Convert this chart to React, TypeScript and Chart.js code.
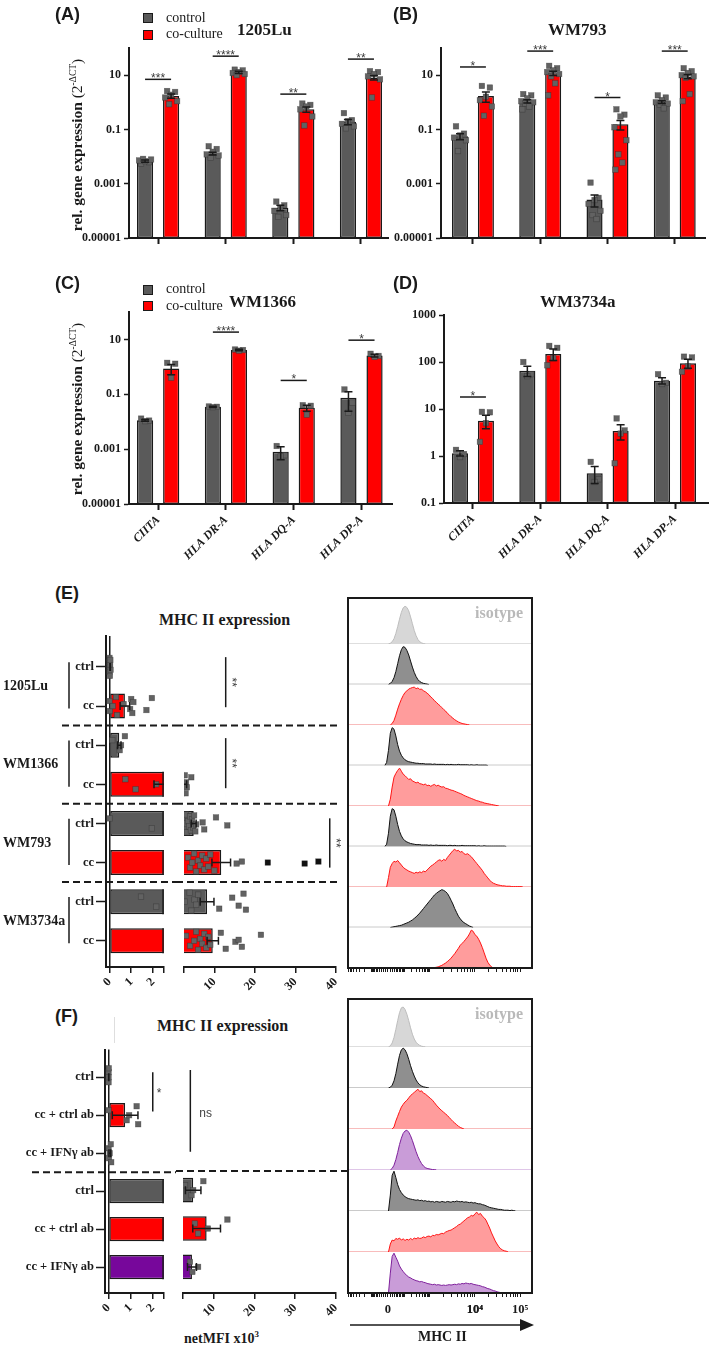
import React, { useEffect, useRef } from 'react';
import { Chart, registerables } from 'chart.js';

Chart.register(...registerables);

const SERIF = "'Liberation Serif', 'Times New Roman', serif";
const SANS = "'Liberation Sans', Arial, sans-serif";
const INK = '#1a1a1a';
const GREY = '#5a5a5a';
const RED = '#ff0000';
const PURPLE = '#77079b';
const DOT = '#626262';

// ---------------- qPCR (A–D) ----------------
const genes = ['CIITA', 'HLA DR-A', 'HLA DQ-A', 'HLA DP-A'];
const smallTicks = [0.00001, 0.001, 0.1, 10];
const smallTickLabels = ['0.00001', '0.001', '0.1', '10'];
const wideTicks = [0.1, 1, 10, 100, 1000];
const wideTickLabels = ['0.1', '1', '10', '100', '1000'];

// 1205Lu
const lu1205Ctrl = [0.0068, 0.013, 0.00013, 0.19];
const lu1205Co = [1.7, 12.6, 0.55, 8.2];
const lu1205CtrlSem = [0.0006, 0.0015, 0.00003, 0.04];
const lu1205CoSem = [0.3, 1.2, 0.12, 1.6];
const lu1205CtrlPts = [
  [0.0055, 0.0062, 0.0068, 0.0072, 0.0078, 0.0082],
  [0.024, 0.019, 0.015, 0.012, 0.011, 0.009],
  [0.00022, 0.00016, 0.00013, 0.0001, 0.00007, 0.00006],
  [0.4, 0.22, 0.2, 0.16, 0.13, 0.11],
];
const lu1205CoPts = [
  [2.6, 2.4, 1.9, 1.5, 1.1, 0.85],
  [16, 15, 13, 12, 11, 10],
  [0.9, 0.8, 0.7, 0.55, 0.3, 0.14],
  [14, 13, 11, 9, 7, 1.5],
];
const lu1205SigAt = [7, 50, 2, 39];
const lu1205Sig = ['***', '****', '**', '**'];

// WM793
const wm793Ctrl = [0.056, 1.1, 0.00026, 1.02];
const wm793Co = [1.7, 11.8, 0.155, 8.9];
const wm793CtrlSem = [0.014, 0.15, 0.00012, 0.12];
const wm793CoSem = [0.7, 2.0, 0.06, 1.6];
const wm793CtrlPts = [
  [0.13, 0.07, 0.06, 0.05, 0.04, 0.016],
  [2, 1.8, 1.4, 1.1, 1.0, 0.9, 0.7, 0.55],
  [0.0011, 0.0003, 0.00025, 0.00018, 0.0001, 0.00007, 0.00005],
  [1.8, 1.5, 1.2, 1.0, 0.9, 0.8, 0.6],
];
const wm793CoPts = [
  [4, 3.5, 1.6, 1.2, 0.7, 0.32],
  [22, 18, 15, 13, 11, 9, 5, 1.8],
  [0.55, 0.35, 0.3, 0.12, 0.04, 0.012, 0.006, 0.0033],
  [18, 14, 12, 10, 9, 8, 2, 1.1],
];
const wm793SigAt = [20, 77, 1.5, 77];
const wm793Sig = ['*', '***', '*', '***'];

// WM1366
const wm1366Ctrl = [0.0112, 0.035, 0.00081, 0.074];
const wm1366Co = [0.87, 4.1, 0.032, 2.6];
const wm1366CtrlSem = [0.0008, 0.002, 0.0004, 0.05];
const wm1366CoSem = [0.35, 0.25, 0.008, 0.3];
const wm1366CtrlPts = [
  [0.013, 0.011, 0.0105],
  [0.036, 0.035, 0.034],
  [0.0013, 0.0006, 0.00055],
  [0.15, 0.05, 0.021],
];
const wm1366CoPts = [
  [1.4, 1.3, 0.4],
  [4.3, 4.1, 3.9],
  [0.04, 0.038, 0.018],
  [3.0, 2.5, 2.3],
];
const wm1366SigAt = [null, 18.5, 0.32, 9.4];
const wm1366Sig = ['', '****', '*', '*'];

// WM3734a
const wm3734Ctrl = [1.15, 65, 0.43, 40];
const wm3734Co = [5.6, 148, 3.4, 94];
const wm3734CtrlSem = [0.15, 16, 0.17, 6];
const wm3734CoSem = [1.8, 40, 1.2, 20];
const wm3734CtrlPts = [
  [1.35, 1.1, 0.95],
  [100, 55, 50],
  [0.75, 0.32, 0.28],
  [55, 36, 34],
];
const wm3734CoPts = [
  [8.7, 8.5, 5, 2.0],
  [220, 200, 120, 85],
  [6.3, 3.5, 3.0, 0.7],
  [130, 125, 80, 62],
];
const wm3734SigAt = [18, null, null, null];
const wm3734Sig = ['*', '', '', ''];

// ---------------- netMFI bars (E, F) ----------------
const rowsE = ['ctrl', 'cc', 'ctrl', 'cc', 'ctrl', 'cc', 'ctrl', 'cc'];
const groupsE = ['1205Lu', 'WM1366', 'WM793', 'WM3734a'];
const meanE = [0.03, 0.71, 0.45, 2.6, 4.9, 11.7, 8.2, 9.6];
const semE = [0.01, 0.22, 0.08, 0.55, 0.6, 2.3, 1.7, 1.4];
const colorsE = [GREY, RED, GREY, RED, GREY, RED, GREY, RED];
const ptsE = [
  [0, 0, 0, 0, 0.02, 0.03, 0.05, 0.04],
  [0, 0.02, 0.15, 0.3, 0.35, 0.65, 0.95, 1.0, 1.05, 1.1, 1.7, 1.95],
  [0.13, 0.47, 0.53, 0.71],
  [0.73, 1.2, 2.15, 2.7, 2.9, 3.0, 3.2, 4.3],
  [0.0, 1.95, 2.7, 3.0, 3.2, 3.5, 3.8, 4.0, 4.2, 4.5, 4.8, 5.0, 5.3, 5.5, 7.1, 7.5, 10.4, 13.2],
  [3.5, 4.0, 4.5, 5.0, 5.5, 6.0, 6.5, 7.0, 7.5, 8.0, 8.5, 9.0, 10, 15.5, 16.8],
  [1.45, 2.15, 2.7, 3.9, 4.3, 5.1, 5.5, 6.0, 11.2, 14.4, 16.0, 17.2, 17.8],
  [3.0, 4.0, 5.0, 5.5, 6.0, 6.5, 7.0, 7.5, 8.0, 8.5, 9.0, 11.6, 12.8, 15.2, 16.0, 16.8, 21.5],
];
const darkPtsE = [[], [], [], [], [], [23.2, 32.3, 35.7], [], []];
const sepE = [1.5, 3.5, 5.5];
const sigE = [
  { at: 12.8, from: -0.25, to: 1.03, label: '**' },
  { at: 12.8, from: 1.82, to: 3.1, label: '**' },
  { at: 38.5, from: 3.87, to: 5.13, label: '**' },
];

const rowsF = ['ctrl', 'cc + ctrl ab', 'cc + IFN\u03b3 ab', 'ctrl', 'cc + ctrl ab', 'cc + IFN\u03b3 ab'];
const meanF = [0.01, 0.75, 0.06, 5.0, 8.3, 4.7];
const semF = [0.005, 0.58, 0.04, 1.9, 3.4, 1.1];
const colorsF = [GREY, RED, PURPLE, GREY, RED, PURPLE];
const ptsF = [
  [0, 0, 0, 0.01],
  [0, 0.82, 0.93, 1.27, 1.34],
  [0, 0.02, 0.05, 0.1, 0.12],
  [3.0, 4.6, 5.0, 7.5],
  [5.4, 6.2, 8.6, 13.4],
  [4.2, 4.8, 6.2],
];
const sepF = [2.5];
const sigFLeft = [{ at: 2.0, from: -0.13, to: 0.9, label: '*' }];
const sigFRight = [{ at: 4.3, from: -0.13, to: 2.0, label: 'ns' }];

const leftTicks = [0, 1, 2, 2.5];
const leftTickLabels = ['0', '1', '2', ''];
const rightTicks = [2.5, 10, 20, 30, 40];
const rightTickLabels = ['', '10', '20', '30', '40'];

// ---------------- MHC II histograms (channel scale 0–1000, bins of 10) ----------------
const HIST_STEP = 10;
const histTickValues = [0, 10000, 100000];
const histTickLabels = ['0', '10\u2074', '10\u2075'];

const isoEStart = 220;
const isoE = [0, 2, 6, 14, 28, 46, 66, 84, 96, 100, 97, 88, 72, 54, 36, 22, 12, 6, 3, 1, 0];
const lu1205CtrlHStart = 220;
const lu1205CtrlH = [0, 3, 8, 18, 34, 55, 76, 92, 100, 98, 90, 78, 62, 46, 32, 21, 13, 8, 5, 3, 2, 1, 0];
const lu1205CoHStart = 230;
const lu1205CoH = [0, 4, 12, 26, 42, 56, 68, 78, 86, 90, 95, 97, 99, 100, 96, 98, 94, 95, 90, 88, 84, 80, 74, 70, 64, 60, 55, 51, 46, 41, 37, 31, 27, 22, 18, 14, 11, 8, 6, 4, 3, 2, 1, 0];
const wm1366CtrlHStart = 200;
const wm1366CtrlH = [0, 8, 40, 85, 100, 96, 78, 55, 38, 27, 20, 15, 12, 10, 9, 8, 7, 6, 6, 5, 5, 5, 4, 4, 4, 4, 3, 4, 3, 3, 3, 3, 3, 2, 3, 2, 3, 2, 2, 2, 3, 2, 2, 2, 2, 2, 1, 2, 1, 1, 2, 1, 1, 1, 1, 1, 0];
const wm1366CoHStart = 220;
const wm1366CoH = [0, 18, 50, 76, 86, 94, 100, 92, 84, 80, 75, 70, 72, 66, 64, 61, 63, 59, 58, 56, 58, 54, 55, 52, 55, 57, 53, 55, 52, 50, 51, 47, 46, 44, 42, 41, 39, 37, 35, 33, 31, 28, 26, 24, 22, 20, 18, 16, 14, 13, 11, 10, 8, 7, 6, 5, 4, 3, 2, 1, 0];
const wm793CtrlHStart = 200;
const wm793CtrlH = [0, 6, 35, 80, 100, 97, 80, 58, 40, 28, 20, 15, 12, 10, 8, 7, 6, 5, 5, 5, 4, 4, 4, 4, 3, 4, 3, 3, 4, 3, 3, 3, 3, 3, 2, 3, 3, 2, 3, 2, 2, 2, 3, 2, 2, 2, 2, 2, 2, 2, 1, 2, 1, 1, 2, 1, 1, 1, 1, 1, 1, 1, 1, 1, 1, 1, 0];
const wm793CoHStart = 210;
const wm793CoH = [0, 25, 52, 62, 68, 66, 70, 64, 58, 52, 48, 45, 42, 40, 38, 36, 39, 37, 40, 38, 42, 40, 45, 50, 55, 58, 62, 66, 70, 72, 68, 73, 70, 78, 84, 90, 96, 100, 95, 97, 92, 94, 88, 86, 88, 84, 80, 74, 68, 62, 56, 50, 44, 36, 30, 24, 18, 13, 10, 8, 6, 5, 4, 3, 3, 2, 2, 2, 1, 1, 1, 1, 1, 1, 0];
const wm3734CtrlHStart = 230;
const wm3734CtrlH = [0, 1, 2, 3, 4, 5, 6, 8, 10, 12, 14, 17, 20, 24, 28, 33, 38, 44, 50, 56, 62, 68, 74, 80, 86, 90, 94, 97, 100, 98, 95, 90, 82, 72, 62, 50, 40, 30, 23, 17, 13, 10, 7, 4, 2, 0];
const wm3734CoHStart = 460;
const wm3734CoH = [0, 1, 2, 3, 5, 7, 10, 13, 17, 21, 26, 32, 38, 45, 52, 60, 65, 70, 76, 82, 90, 100, 97, 88, 84, 76, 66, 54, 40, 26, 15, 8, 3, 0];

const isoFStart = 220;
const isoF = [0, 3, 10, 24, 44, 66, 86, 98, 100, 94, 82, 66, 48, 32, 20, 12, 7, 4, 2, 1, 0];
const fCtrlAStart = 220;
const fCtrlA = [0, 2, 7, 18, 36, 60, 82, 96, 100, 96, 86, 72, 56, 42, 30, 20, 13, 8, 5, 3, 2, 1, 0];
const fCtrlAbAStart = 240;
const fCtrlAbA = [0, 5, 20, 32, 44, 55, 62, 68, 72, 78, 84, 88, 92, 96, 100, 94, 96, 90, 88, 84, 80, 76, 72, 66, 60, 55, 50, 46, 42, 38, 34, 29, 24, 19, 15, 11, 7, 4, 2, 0];
const fIfnAbAStart = 230;
const fIfnAbA = [0, 4, 12, 26, 44, 64, 80, 92, 98, 100, 95, 86, 74, 60, 46, 34, 24, 16, 10, 6, 4, 3, 2, 1, 1, 0];
const fCtrlBStart = 220;
const fCtrlB = [0, 40, 90, 100, 84, 66, 54, 46, 40, 36, 33, 31, 30, 29, 28, 27, 28, 26, 27, 25, 26, 24, 25, 23, 24, 22, 24, 23, 22, 24, 23, 22, 24, 23, 22, 24, 23, 25, 24, 23, 24, 22, 23, 22, 21, 22, 20, 21, 19, 18, 18, 16, 15, 13, 11, 9, 8, 7, 6, 5, 4, 4, 3, 2, 2, 2, 1, 2, 1, 0];
const fCtrlAbBStart = 220;
const fCtrlAbB = [0, 20, 30, 28, 34, 32, 35, 30, 33, 29, 32, 30, 34, 31, 35, 33, 36, 34, 35, 38, 36, 39, 40, 38, 42, 41, 44, 43, 45, 47, 46, 50, 52, 54, 55, 58, 61, 64, 68, 70, 74, 78, 82, 86, 88, 92, 90, 96, 100, 94, 97, 90, 86, 80, 70, 60, 48, 38, 28, 20, 13, 8, 5, 3, 2, 0];
const fIfnAbBStart = 220;
const fIfnAbB = [0, 50, 92, 100, 90, 80, 68, 60, 54, 48, 44, 40, 38, 35, 33, 31, 30, 28, 29, 27, 26, 24, 23, 22, 21, 22, 20, 21, 20, 19, 20, 19, 20, 21, 20, 21, 22, 21, 23, 22, 24, 23, 25, 24, 23, 24, 22, 21, 20, 19, 18, 16, 15, 13, 11, 10, 8, 6, 5, 3, 2, 1, 0];

const TONES: any = {
  iso: { line: '#bdbdbd', fill: '#d7d7d7', base: '#dedede' },
  grey: { line: '#111111', fill: '#8f8f8f', base: '#cacaca' },
  red: { line: '#ff1414', fill: '#ff9c9c', base: '#f8bcbc' },
  purple: { line: '#7e1f9b', fill: '#c99cd8', base: '#dfc6e8' },
};

const histRowsE = [
  { start: isoEStart, counts: isoE, tone: 'iso' },
  { start: lu1205CtrlHStart, counts: lu1205CtrlH, tone: 'grey' },
  { start: lu1205CoHStart, counts: lu1205CoH, tone: 'red' },
  { start: wm1366CtrlHStart, counts: wm1366CtrlH, tone: 'grey' },
  { start: wm1366CoHStart, counts: wm1366CoH, tone: 'red' },
  { start: wm793CtrlHStart, counts: wm793CtrlH, tone: 'grey' },
  { start: wm793CoHStart, counts: wm793CoH, tone: 'red' },
  { start: wm3734CtrlHStart, counts: wm3734CtrlH, tone: 'grey' },
  { start: wm3734CoHStart, counts: wm3734CoH, tone: 'red' },
];
const histRowsF = [
  { start: isoFStart, counts: isoF, tone: 'iso' },
  { start: fCtrlAStart, counts: fCtrlA, tone: 'grey' },
  { start: fCtrlAbAStart, counts: fCtrlAbA, tone: 'red' },
  { start: fIfnAbAStart, counts: fIfnAbA, tone: 'purple' },
  { start: fCtrlBStart, counts: fCtrlB, tone: 'grey' },
  { start: fCtrlAbBStart, counts: fCtrlAbB, tone: 'red' },
  { start: fIfnAbBStart, counts: fIfnAbB, tone: 'purple' },
];

// biexponential-style display transform of the MHC II axis (fluorescence -> channel)
const channelOf = (v: number) =>
  v >= 1000 ? 690 + 245 * (Math.log10(v) - 4) : 217 + (Math.sign(v) * 228 * Math.asinh(Math.abs(v) / 50)) / Math.asinh(20);

const histAxisTicks: number[] = (() => {
  const out: number[] = histTickValues.map(channelOf);
  for (const d of [1, 2, 3, 4]) {
    for (let m = 1; m <= 9; m++) {
      out.push(channelOf(m * 10 ** d));
      if (d <= 2) out.push(channelOf(-m * 10 ** d));
    }
  }
  return out.filter((c) => c >= 0 && c <= 1000).sort((a, b) => a - b);
})();

// ---------------- helpers ----------------
const JIT = [-4, 4, 0, -6, 6, -2, 2, -5, 5, -1, 1, -3, 3];
const VJIT = [-5, 5, 0, -9, 9, -2, 3, -7, 7, -4, 4, -8, 8, 1, -1, 6, -6, 2];

function square(ctx: any, x: number, y: number, color: string) {
  ctx.fillStyle = color;
  ctx.fillRect(x - 2.75, y - 2.75, 5.5, 5.5);
  ctx.strokeStyle = 'rgba(40,40,40,0.5)';
  ctx.lineWidth = 0.6;
  ctx.strokeRect(x - 2.75, y - 2.75, 5.5, 5.5);
}

function dashed(ctx: any, x0: number, x1: number, y: number) {
  ctx.save();
  ctx.strokeStyle = INK;
  ctx.lineWidth = 2;
  ctx.setLineDash([7, 4]);
  ctx.beginPath();
  ctx.moveTo(x0, y);
  ctx.lineTo(x1, y);
  ctx.stroke();
  ctx.restore();
}

function vline(ctx: any, x: number, y0: number, y1: number) {
  ctx.strokeStyle = INK;
  ctx.lineWidth = 1.5;
  ctx.beginPath();
  ctx.moveTo(x, y0);
  ctx.lineTo(x, y1);
  ctx.stroke();
}

function lookup(ticks: number[], labels: string[], v: number, log = false) {
  const i = ticks.findIndex((t) => (log ? Math.abs(Math.log10(t) - Math.log10(v)) < 1e-6 : Math.abs(t - v) < 1e-6));
  return i >= 0 ? labels[i] : '';
}

function qpcrMarks(sems: number[][], pts: number[][][], sigAt: (number | null)[], sig: string[]) {
  return {
    id: 'qpcrMarks',
    afterDatasetsDraw(chart: any) {
      const ctx = chart.ctx;
      const ys = chart.scales.y;
      ctx.save();
      for (let d = 0; d < 2; d++) {
        const meta = chart.getDatasetMeta(d);
        meta.data.forEach((bar: any, j: number) => {
          const mean = chart.data.datasets[d].data[j].y;
          pts[d][j].forEach((v, k) => square(ctx, bar.x + JIT[k % JIT.length], ys.getPixelForValue(v), DOT));
          const hi = ys.getPixelForValue(mean + sems[d][j]);
          const lo = ys.getPixelForValue(Math.max(mean - sems[d][j], ys.min));
          ctx.strokeStyle = INK;
          ctx.lineWidth = 1.5;
          ctx.beginPath();
          ctx.moveTo(bar.x, lo);
          ctx.lineTo(bar.x, hi);
          ctx.moveTo(bar.x - 4, hi);
          ctx.lineTo(bar.x + 4, hi);
          ctx.moveTo(bar.x - 4, lo);
          ctx.lineTo(bar.x + 4, lo);
          ctx.stroke();
        });
      }
      const m0 = chart.getDatasetMeta(0).data;
      const m1 = chart.getDatasetMeta(1).data;
      sigAt.forEach((v, j) => {
        if (v == null) return;
        const y = ys.getPixelForValue(v);
        ctx.strokeStyle = INK;
        ctx.lineWidth = 1.5;
        ctx.beginPath();
        ctx.moveTo(m0[j].x, y);
        ctx.lineTo(m1[j].x, y);
        ctx.stroke();
        ctx.fillStyle = '#3a3a3a';
        ctx.font = `12px ${SANS}`;
        ctx.textAlign = 'center';
        ctx.textBaseline = 'alphabetic';
        ctx.fillText(sig[j], (m0[j].x + m1[j].x) / 2, y + 3);
      });
      ctx.restore();
    },
  };
}

function qpcrConfig(p: any) {
  return () => ({
    type: 'bar',
    data: {
      datasets: [
        {
          label: 'control',
          data: p.ctrl.map((v: number, i: number) => ({ x: i, y: v })),
          backgroundColor: GREY,
          borderColor: INK,
          borderWidth: 1.5,
          borderSkipped: false,
          categoryPercentage: 0.77,
          barPercentage: 0.62,
        },
        {
          label: 'co-culture',
          data: p.co.map((v: number, i: number) => ({ x: i, y: v })),
          backgroundColor: RED,
          borderColor: INK,
          borderWidth: 1.5,
          borderSkipped: false,
          categoryPercentage: 0.77,
          barPercentage: 0.62,
        },
      ],
    },
    options: {
      responsive: false,
      animation: false,
      events: [],
      layout: { padding: { top: p.padTop, right: p.padRight, left: 0, bottom: 0 }, autoPadding: false },
      plugins: { legend: { display: false }, tooltip: { enabled: false } },
      scales: {
        x: {
          type: 'linear',
          min: p.xMin,
          max: p.xMax,
          offset: false,
          afterBuildTicks: (s: any) => {
            s.ticks = genes.map((_, i) => ({ value: i }));
          },
          afterFit: (s: any) => {
            s.height = p.xHeight;
          },
          grid: { drawOnChartArea: false, drawTicks: true, tickLength: 6, offset: false, color: INK, tickColor: INK, tickWidth: 2 },
          border: { display: true, color: INK, width: 2 },
          ticks: {
            display: p.showGenes,
            autoSkip: false,
            minRotation: 45,
            maxRotation: 45,
            padding: 3,
            color: INK,
            font: { family: SERIF, size: 12, weight: 'bold', style: 'italic' },
            callback: (v: number) => genes[Math.round(v)] ?? '',
          },
        },
        y: {
          type: 'logarithmic',
          min: p.yMin,
          max: p.yMax,
          afterBuildTicks: (s: any) => {
            s.ticks = p.yTicks.map((v: number) => ({ value: v }));
          },
          afterFit: (s: any) => {
            s.width = p.yWidth;
          },
          grid: { drawOnChartArea: false, drawTicks: true, tickLength: 5, color: INK, tickColor: INK, tickWidth: 1.5 },
          border: { display: true, color: INK, width: 2 },
          ticks: {
            padding: 3,
            color: INK,
            font: { family: SERIF, size: 12, weight: 'bold' },
            callback: (v: number) => lookup(p.yTicks, p.yLabels, v, true),
          },
        },
      },
    },
    plugins: [qpcrMarks(p.sems, p.pts, p.sigAt, p.sig)],
  });
}

function rowMarks(p: any) {
  return {
    id: 'rowMarks',
    afterDatasetsDraw(chart: any) {
      const ctx = chart.ctx;
      const a = chart.chartArea;
      const xs = chart.scales.x;
      const ys = chart.scales.y;
      const meta = chart.getDatasetMeta(0);
      const inSegment = (v: number) => v >= p.ptMin && v <= p.ptMax;
      ctx.save();
      meta.data.forEach((bar: any, i: number) => {
        if (p.means[i] > xs.max) {
          const cy = ys.getPixelForValue(i);
          ctx.strokeStyle = INK;
          ctx.lineWidth = 1.5;
          ctx.beginPath();
          ctx.moveTo(a.right - 0.75, cy - bar.height / 2);
          ctx.lineTo(a.right - 0.75, cy + bar.height / 2);
          ctx.stroke();
        }
      });
      ctx.beginPath();
      ctx.rect(a.left - p.clipL, a.top, a.right - a.left + p.clipL + p.clipR, a.bottom - a.top);
      ctx.clip();
      p.means.forEach((mean: number, i: number) => {
        const cy = ys.getPixelForValue(i);
        p.pts[i].forEach((v: number, k: number) => {
          if (inSegment(v)) square(ctx, xs.getPixelForValue(v), cy + VJIT[k % VJIT.length], DOT);
        });
        (p.dark[i] || []).forEach((v: number, k: number) => {
          if (inSegment(v)) square(ctx, xs.getPixelForValue(v), cy + [0, 1, -1][k % 3], '#111');
        });
        const l = xs.getPixelForValue(Math.max(mean - p.sems[i], 0));
        const r = xs.getPixelForValue(mean + p.sems[i]);
        ctx.strokeStyle = INK;
        ctx.lineWidth = 1.5;
        ctx.beginPath();
        ctx.moveTo(l, cy);
        ctx.lineTo(r, cy);
        ctx.moveTo(l, cy - 4);
        ctx.lineTo(l, cy + 4);
        ctx.moveTo(r, cy - 4);
        ctx.lineTo(r, cy + 4);
        ctx.stroke();
      });
      ctx.restore();
      ctx.save();
      p.extra && p.extra(chart);
      ctx.restore();
    },
  };
}

function hbarConfig(p: any) {
  return () => ({
    type: 'bar',
    data: {
      datasets: [
        {
          // bars that end before this segment of the broken axis are left out
          data: p.means.map((v: number, i: number) => ({ x: v > p.xMin ? v : null, y: i })),
          backgroundColor: p.colors,
          borderColor: INK,
          borderWidth: 1.5,
          borderSkipped: false,
          categoryPercentage: 1,
          barPercentage: 0.64,
          clip: 0,
        },
      ],
    },
    options: {
      indexAxis: 'y',
      responsive: false,
      animation: false,
      events: [],
      layout: { padding: { top: p.padTop, left: p.padLeft, right: p.padRight, bottom: 0 }, autoPadding: false },
      plugins: { legend: { display: false }, tooltip: { enabled: false } },
      scales: {
        x: {
          type: 'linear',
          min: p.xMin,
          max: p.xMax,
          afterBuildTicks: (s: any) => {
            s.ticks = p.xTicks.map((v: number) => ({ value: v }));
          },
          afterFit: (s: any) => {
            s.height = p.xHeight;
          },
          grid: {
            drawOnChartArea: p.zeroLine,
            drawTicks: true,
            tickLength: 6,
            lineWidth: 1.5,
            color: (c: any) => (c.tick && c.tick.value === 0 ? INK : 'rgba(0,0,0,0)'),
            tickColor: INK,
            tickWidth: 1.5,
          },
          border: { display: true, color: INK, width: 2 },
          ticks: {
            autoSkip: false,
            minRotation: 45,
            maxRotation: 45,
            padding: 2,
            color: INK,
            font: { family: SERIF, size: 12, weight: 'bold' },
            callback: (v: number) => lookup(p.xTicks, p.xLabels, v),
          },
        },
        y: {
          type: 'linear',
          reverse: true,
          min: p.yMin,
          max: p.yMax,
          offset: false,
          display: p.showRows,
          afterBuildTicks: (s: any) => {
            s.ticks = p.rows.map((_: string, i: number) => ({ value: i }));
          },
          afterFit: (s: any) => {
            s.width = p.yWidth;
          },
          grid: { drawOnChartArea: false, drawTicks: true, tickLength: p.tickLen, offset: false, color: INK, tickColor: INK, tickWidth: 1.5 },
          border: { display: true, color: INK, width: 2 },
          ticks: {
            autoSkip: false,
            padding: 2,
            color: INK,
            font: { family: SERIF, size: 12.5, weight: 'bold' },
            callback: (v: number) => p.rows[Math.round(v)] ?? '',
          },
        },
      },
    },
    plugins: [rowMarks(p)],
  });
}

function histPlugin(rows: any[]) {
  return {
    id: 'histFrame',
    beforeDatasetsDraw(chart: any) {
      const ctx = chart.ctx;
      const a = chart.chartArea;
      ctx.save();
      rows.forEach((r, i) => {
        const s = chart.scales['h' + i];
        const y = s.getPixelForValue(0) - 0.5;
        ctx.strokeStyle = TONES[r.tone].base;
        ctx.lineWidth = 1;
        ctx.beginPath();
        ctx.moveTo(a.left, y);
        ctx.lineTo(a.right, y);
        ctx.stroke();
      });
      ctx.restore();
    },
    afterDatasetsDraw(chart: any) {
      const ctx = chart.ctx;
      const a = chart.chartArea;
      ctx.save();
      ctx.strokeStyle = INK;
      ctx.lineWidth = 2;
      ctx.strokeRect(a.left, a.top, a.right - a.left, a.bottom - a.top);
      ctx.fillStyle = '#b9b9b9';
      ctx.font = `bold 16px ${SERIF}`;
      ctx.textAlign = 'right';
      ctx.textBaseline = 'alphabetic';
      ctx.fillText('isotype', a.right - 9, a.top + 20);
      ctx.restore();
    },
  };
}

function histConfig(rows: any[], p: any) {
  return () => {
    const scales: any = {
      x: {
        type: 'linear',
        min: 0,
        max: 1000,
        afterBuildTicks: (s: any) => {
          s.ticks = histAxisTicks.map((v) => ({ value: v }));
        },
        afterFit: (s: any) => {
          s.height = p.xHeight;
        },
        grid: { drawOnChartArea: false, drawTicks: true, tickLength: 4, color: INK, tickColor: INK, tickWidth: 1 },
        border: { display: false },
        ticks: {
          display: p.showLabels,
          autoSkip: false,
          minRotation: 0,
          maxRotation: 0,
          padding: 5,
          color: INK,
          font: { family: SERIF, size: 12.5, weight: 'bold' },
          callback: (v: number) => {
            const i = histTickValues.findIndex((t) => Math.abs(channelOf(t) - v) < 0.01);
            return i >= 0 ? histTickLabels[i] : '';
          },
        },
      },
    };
    rows.forEach((_r, i) => {
      scales['h' + i] = {
        type: 'linear',
        position: 'right',
        stack: 'rows',
        stackWeight: i === 0 ? p.firstWeight : 1,
        min: 0,
        max: i === 0 ? p.firstMax : p.rowMax,
        display: false,
      };
    });
    return {
      type: 'line',
      data: {
        datasets: rows.map((r, i) => ({
          data: r.counts.map((c: number, k: number) => ({ x: r.start + k * HIST_STEP, y: c })),
          xAxisID: 'x',
          yAxisID: 'h' + i,
          borderColor: TONES[r.tone].line,
          backgroundColor: TONES[r.tone].fill,
          borderWidth: 1,
          fill: 'origin',
          pointRadius: 0,
          tension: 0,
        })),
      },
      options: {
        responsive: false,
        animation: false,
        events: [],
        layout: { padding: { top: p.padTop, left: 8, right: 8, bottom: 0 }, autoPadding: false },
        plugins: { legend: { display: false }, tooltip: { enabled: false } },
        scales,
      },
      plugins: [histPlugin(rows)],
    };
  };
}

// ---------------- chart configs ----------------
const cfgA = qpcrConfig({
  ctrl: lu1205Ctrl, co: lu1205Co, sems: [lu1205CtrlSem, lu1205CoSem], pts: [lu1205CtrlPts, lu1205CoPts],
  sigAt: lu1205SigAt, sig: lu1205Sig, yMin: 0.00001, yMax: 100, yTicks: smallTicks, yLabels: smallTickLabels,
  xMin: -0.43, xMax: 3.4, padTop: 48, padRight: 7, xHeight: 12, yWidth: 129, showGenes: false,
});
const cfgB = qpcrConfig({
  ctrl: wm793Ctrl, co: wm793Co, sems: [wm793CtrlSem, wm793CoSem], pts: [wm793CtrlPts, wm793CoPts],
  sigAt: wm793SigAt, sig: wm793Sig, yMin: 0.00001, yMax: 100, yTicks: smallTicks, yLabels: smallTickLabels,
  xMin: -0.475, xMax: 3.45, padTop: 48, padRight: 4, xHeight: 12, yWidth: 56, showGenes: false,
});
const cfgC = qpcrConfig({
  ctrl: wm1366Ctrl, co: wm1366Co, sems: [wm1366CtrlSem, wm1366CoSem], pts: [wm1366CtrlPts, wm1366CoPts],
  sigAt: wm1366SigAt, sig: wm1366Sig, yMin: 0.00001, yMax: 100, yTicks: smallTicks, yLabels: smallTickLabels,
  xMin: -0.43, xMax: 3.45, padTop: 32, padRight: 3, xHeight: 71, yWidth: 129, showGenes: true,
});
const cfgD = qpcrConfig({
  ctrl: wm3734Ctrl, co: wm3734Co, sems: [wm3734CtrlSem, wm3734CoSem], pts: [wm3734CtrlPts, wm3734CoPts],
  sigAt: wm3734SigAt, sig: wm3734Sig, yMin: 0.1, yMax: 1000, yTicks: wideTicks, yLabels: wideTickLabels,
  xMin: -0.43, xMax: 3.49, padTop: 35, padRight: 1, xHeight: 72, yWidth: 59, showGenes: true,
});

const cfgELeft = hbarConfig({
  means: meanE, sems: semE, colors: colorsE, pts: ptsE, dark: darkPtsE, rows: rowsE,
  xMin: -0.16, xMax: 2.5, xTicks: leftTicks, xLabels: leftTickLabels, zeroLine: true, ptMin: -1, ptMax: 2.6,
  yMin: -0.79, yMax: 7.67, showRows: true, yWidth: 106, tickLen: 10,
  padTop: 36, padLeft: 0, padRight: 4, xHeight: 33, clipL: 3, clipR: 0,
  extra: (chart: any) => {
    const ctx = chart.ctx;
    const ys = chart.scales.y;
    groupsE.forEach((g, gi) => {
      vline(ctx, 69, ys.getPixelForValue(gi * 2 - 0.12), ys.getPixelForValue(gi * 2 + 1.06));
      ctx.fillStyle = INK;
      ctx.font = `bold 14px ${SERIF}`;
      ctx.textAlign = 'left';
      ctx.textBaseline = 'middle';
      ctx.fillText(g, 3, ys.getPixelForValue(gi * 2 + 0.5));
    });
    sepE.forEach((r) => dashed(ctx, 62, chart.width, ys.getPixelForValue(r)));
  },
});
const cfgERight = hbarConfig({
  means: meanE, sems: semE, colors: colorsE, pts: ptsE, dark: darkPtsE, rows: rowsE,
  xMin: 2.5, xMax: 40, xTicks: rightTicks, xLabels: rightTickLabels, zeroLine: false, ptMin: 2.5, ptMax: 100,
  yMin: -0.79, yMax: 7.67, showRows: false, yWidth: 0, tickLen: 0,
  padTop: 36, padLeft: 8, padRight: 8, xHeight: 33, clipL: 0, clipR: 4,
  extra: (chart: any) => {
    const ctx = chart.ctx;
    const xs = chart.scales.x;
    const ys = chart.scales.y;
    sepE.forEach((r) => dashed(ctx, 0, 161, ys.getPixelForValue(r)));
    sigE.forEach((s) => {
      const x = xs.getPixelForValue(s.at);
      const y0 = ys.getPixelForValue(s.from);
      const y1 = ys.getPixelForValue(s.to);
      vline(ctx, x, y0, y1);
      ctx.save();
      ctx.translate(x + 8, (y0 + y1) / 2);
      ctx.rotate(Math.PI / 2);
      ctx.fillStyle = '#3a3a3a';
      ctx.font = `12px ${SANS}`;
      ctx.textAlign = 'center';
      ctx.textBaseline = 'middle';
      ctx.fillText(s.label, 0, 2);
      ctx.restore();
    });
  },
});

const cfgFLeft = hbarConfig({
  means: meanF, sems: semF, colors: colorsF, pts: ptsF, dark: [], rows: rowsF,
  xMin: -0.16, xMax: 2.5, xTicks: leftTicks, xLabels: leftTickLabels, zeroLine: true, ptMin: -1, ptMax: 2.6,
  yMin: -0.73, yMax: 5.68, showRows: true, yWidth: 105, tickLen: 9,
  padTop: 7, padLeft: 0, padRight: 5, xHeight: 32, clipL: 3, clipR: 0,
  extra: (chart: any) => {
    const ctx = chart.ctx;
    const xs = chart.scales.x;
    const ys = chart.scales.y;
    sepF.forEach((r) => dashed(ctx, 32, chart.width, ys.getPixelForValue(r)));
    sigFLeft.forEach((s) => {
      const x = xs.getPixelForValue(s.at);
      const y0 = ys.getPixelForValue(s.from);
      const y1 = ys.getPixelForValue(s.to);
      vline(ctx, x, y0, y1);
      ctx.fillStyle = '#3a3a3a';
      ctx.font = `12px ${SANS}`;
      ctx.textAlign = 'left';
      ctx.textBaseline = 'middle';
      ctx.fillText(s.label, x + 4, (y0 + y1) / 2 + 2);
    });
  },
});
const cfgFRight = hbarConfig({
  means: meanF, sems: semF, colors: colorsF, pts: ptsF, dark: [], rows: rowsF,
  xMin: 2.5, xMax: 40, xTicks: rightTicks, xLabels: rightTickLabels, zeroLine: false, ptMin: 2.5, ptMax: 100,
  yMin: -0.73, yMax: 5.68, showRows: false, yWidth: 0, tickLen: 0,
  padTop: 7, padLeft: 7, padRight: 9, xHeight: 32, clipL: 0, clipR: 4,
  extra: (chart: any) => {
    const ctx = chart.ctx;
    const xs = chart.scales.x;
    const ys = chart.scales.y;
    sepF.forEach((r) => dashed(ctx, 0, chart.width, ys.getPixelForValue(r)));
    sigFRight.forEach((s) => {
      const x = xs.getPixelForValue(s.at);
      const y0 = ys.getPixelForValue(s.from);
      const y1 = ys.getPixelForValue(s.to);
      vline(ctx, x, y0, y1);
      ctx.fillStyle = '#444';
      ctx.font = `12px ${SANS}`;
      ctx.textAlign = 'left';
      ctx.textBaseline = 'middle';
      ctx.fillText(s.label, x + 9, ys.getPixelForValue(1));
    });
  },
});

const cfgHistE = histConfig(histRowsE, { firstWeight: 46 / 40.5, firstMax: 122, rowMax: 107, showLabels: false, padTop: 8, xHeight: 17 });
const cfgHistF = histConfig(histRowsF, { firstWeight: 48 / 41, firstMax: 120, rowMax: 103, showLabels: true, padTop: 9, xHeight: 27 });

// ---------------- components ----------------
function ChartCanvas({ x, y, w, h, config }: any) {
  const ref = useRef<HTMLCanvasElement | null>(null);
  useEffect(() => {
    const chart = new Chart(ref.current as HTMLCanvasElement, config() as any);
    return () => chart.destroy();
  }, []);
  return <canvas ref={ref} width={w} height={h} style={{ position: 'absolute', left: x, top: y, width: w, height: h }} />;
}

function Txt({ x, y, size, family = SERIF, bold = true, color = INK, children, style }: any) {
  return (
    <div
      style={{
        position: 'absolute',
        left: x,
        top: y,
        fontSize: size,
        fontFamily: family,
        fontWeight: bold ? 'bold' : 'normal',
        lineHeight: 1,
        whiteSpace: 'nowrap',
        color,
        ...style,
      }}
    >
      {children}
    </div>
  );
}

function Swatch({ x, y, color }: any) {
  return <div style={{ position: 'absolute', left: x, top: y, width: 8, height: 8, background: color, border: `1px solid ${INK}` }} />;
}

function YTitle({ cx, cy }: any) {
  return (
    <div
      style={{
        position: 'absolute',
        left: cx,
        top: cy,
        transform: 'translate(-50%, -50%) rotate(-90deg)',
        whiteSpace: 'nowrap',
        fontFamily: SERIF,
        fontSize: 15.5,
        lineHeight: 1,
        color: INK,
      }}
    >
      <b>rel. gene expression</b> (2<sup style={{ fontSize: 9.5 }}>-&#916;CT</sup>)
    </div>
  );
}

export default function App() {
  return (
    <div style={{ position: 'absolute', left: 0, top: 0, width: 709, height: 1345, background: '#fff', overflow: 'hidden' }}>
      {/* qPCR panels */}
      <ChartCanvas x={0} y={0} w={395} h={250} config={cfgA} />
      <ChartCanvas x={385} y={0} w={324} h={250} config={cfgB} />
      <ChartCanvas x={0} y={280} w={395} h={295} config={cfgC} />
      <ChartCanvas x={385} y={280} w={324} h={295} config={cfgD} />

      <Txt x={55} y={5} size={18} family={SANS}>(A)</Txt>
      <Txt x={393} y={5} size={18} family={SANS}>(B)</Txt>
      <Txt x={55} y={274} size={18} family={SANS}>(C)</Txt>
      <Txt x={393} y={274} size={18} family={SANS}>(D)</Txt>
      <Txt x={55} y={584} size={18} family={SANS}>(E)</Txt>
      <Txt x={55} y={1007} size={18} family={SANS}>(F)</Txt>

      <Txt x={237} y={21} size={17}>1205Lu</Txt>
      <Txt x={548} y={21} size={17}>WM793</Txt>
      <Txt x={229} y={293} size={17}>WM1366</Txt>
      <Txt x={540} y={293} size={17}>WM3734a</Txt>

      <Swatch x={143} y={13} color={GREY} />
      <Txt x={166} y={11} size={14} bold={false}>control</Txt>
      <Swatch x={143} y={30} color={RED} />
      <Txt x={166} y={27} size={14} bold={false}>co-culture</Txt>
      <Swatch x={143} y={285} color={GREY} />
      <Txt x={166} y={282} size={14} bold={false}>control</Txt>
      <Swatch x={143} y={301} color={RED} />
      <Txt x={166} y={299} size={14} bold={false}>co-culture</Txt>

      <YTitle cx={77} cy={145} />
      <YTitle cx={77} cy={409} />

      {/* flow cytometry panels */}
      <Txt x={159} y={612} size={16}>MHC II expression</Txt>
      <Txt x={157} y={1018} size={16}>MHC II expression</Txt>
      <div style={{ position: 'absolute', left: 114, top: 1017, width: 1, height: 26, background: '#dedede' }} />

      <ChartCanvas x={0} y={600} w={176} h={400} config={cfgELeft} />
      <ChartCanvas x={176} y={600} w={172} h={400} config={cfgERight} />
      <ChartCanvas x={340} y={590} w={200} h={395} config={cfgHistE} />

      <ChartCanvas x={0} y={1040} w={176} h={285} config={cfgFLeft} />
      <ChartCanvas x={176} y={1040} w={172} h={285} config={cfgFRight} />
      <ChartCanvas x={340} y={990} w={200} h={330} config={cfgHistF} />

      <Txt x={184} y={1330} size={14}>
        netMFI x10<sup style={{ fontSize: 9 }}>3</sup>
      </Txt>
      <svg style={{ position: 'absolute', left: 348, top: 1318 }} width={190} height={14}>
        <line x1={2} y1={7} x2={176} y2={7} stroke={INK} strokeWidth={1.5} />
        <polygon points="172,1 186,7 172,13" fill={INK} />
      </svg>
      <Txt x={418} y={1330} size={14}>MHC II</Txt>
    </div>
  );
}
